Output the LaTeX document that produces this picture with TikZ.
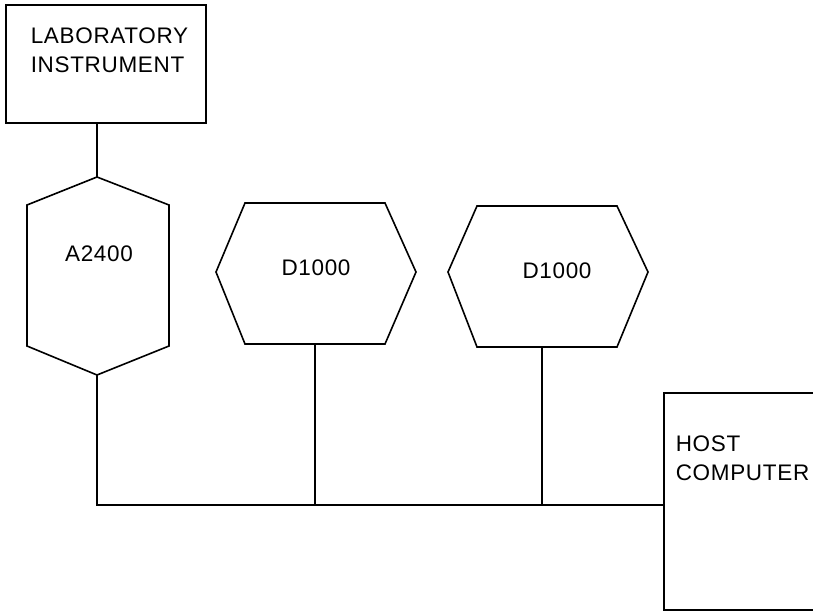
\documentclass[tikz,border=0pt]{standalone}
\usepackage{fontspec}
\setmainfont{Liberation Sans}[LetterSpace=3]
\begin{document}
\begin{tikzpicture}[x=1pt,y=-1pt,
  line width=1.6pt, line join=miter,
  lbl/.style={inner sep=0pt, font=\fontsize{22.5}{29}\selectfont, align=left},
  boxshape/.style={draw, inner sep=0pt, anchor=north west}]
\clip (0,0) rectangle (813,613);
\fill[white] (0,0) rectangle (813,613);
% Laboratory instrument
\node[boxshape, minimum width=200pt, minimum height=118pt] (lab) at (5,4) {};
\node[lbl, anchor=north west] (labtxt) at (30,27) {LABORATORY\\INSTRUMENT};
% A2400 vertical hexagon
\coordinate (atop) at (97,177);
\coordinate (abot) at (97,375);
\draw (atop) -- (169,205) -- (169,346) -- (abot) -- (27,346) -- (27,205) -- cycle;
\node[lbl] (a2400) at (99,254) {A2400};
% D1000 hexagon 1
\coordinate (d1bot) at (315,344);
\draw (216,272) -- (245,203) -- (385,203) -- (416,272) -- (385,344) -- (245,344) -- cycle;
\node[lbl] (d1) at (316,268) {D1000};
% D1000 hexagon 2
\coordinate (d2bot) at (542,347);
\draw (448,272) -- (477,206) -- (617,206) -- (648,272) -- (617,347) -- (477,347) -- cycle;
\node[lbl] (d2) at (557,271) {D1000};
% Host computer
\coordinate (hostleft) at (664,505);
\draw (840,393) -- (664,393) -- (664,610) -- (840,610);
\node[lbl, anchor=north west] (hosttxt) at (675,435) {HOST\\COMPUTER};
% connectors
\coordinate (labbot) at (97,122);
\draw (labbot) -- (atop);
\coordinate (bus1) at (97,505);
\draw (abot) -- (bus1) -- (hostleft);
\draw (d1bot) -- (d1bot |- bus1);
\draw (d2bot) -- (d2bot |- bus1);
\end{tikzpicture}
\end{document}
